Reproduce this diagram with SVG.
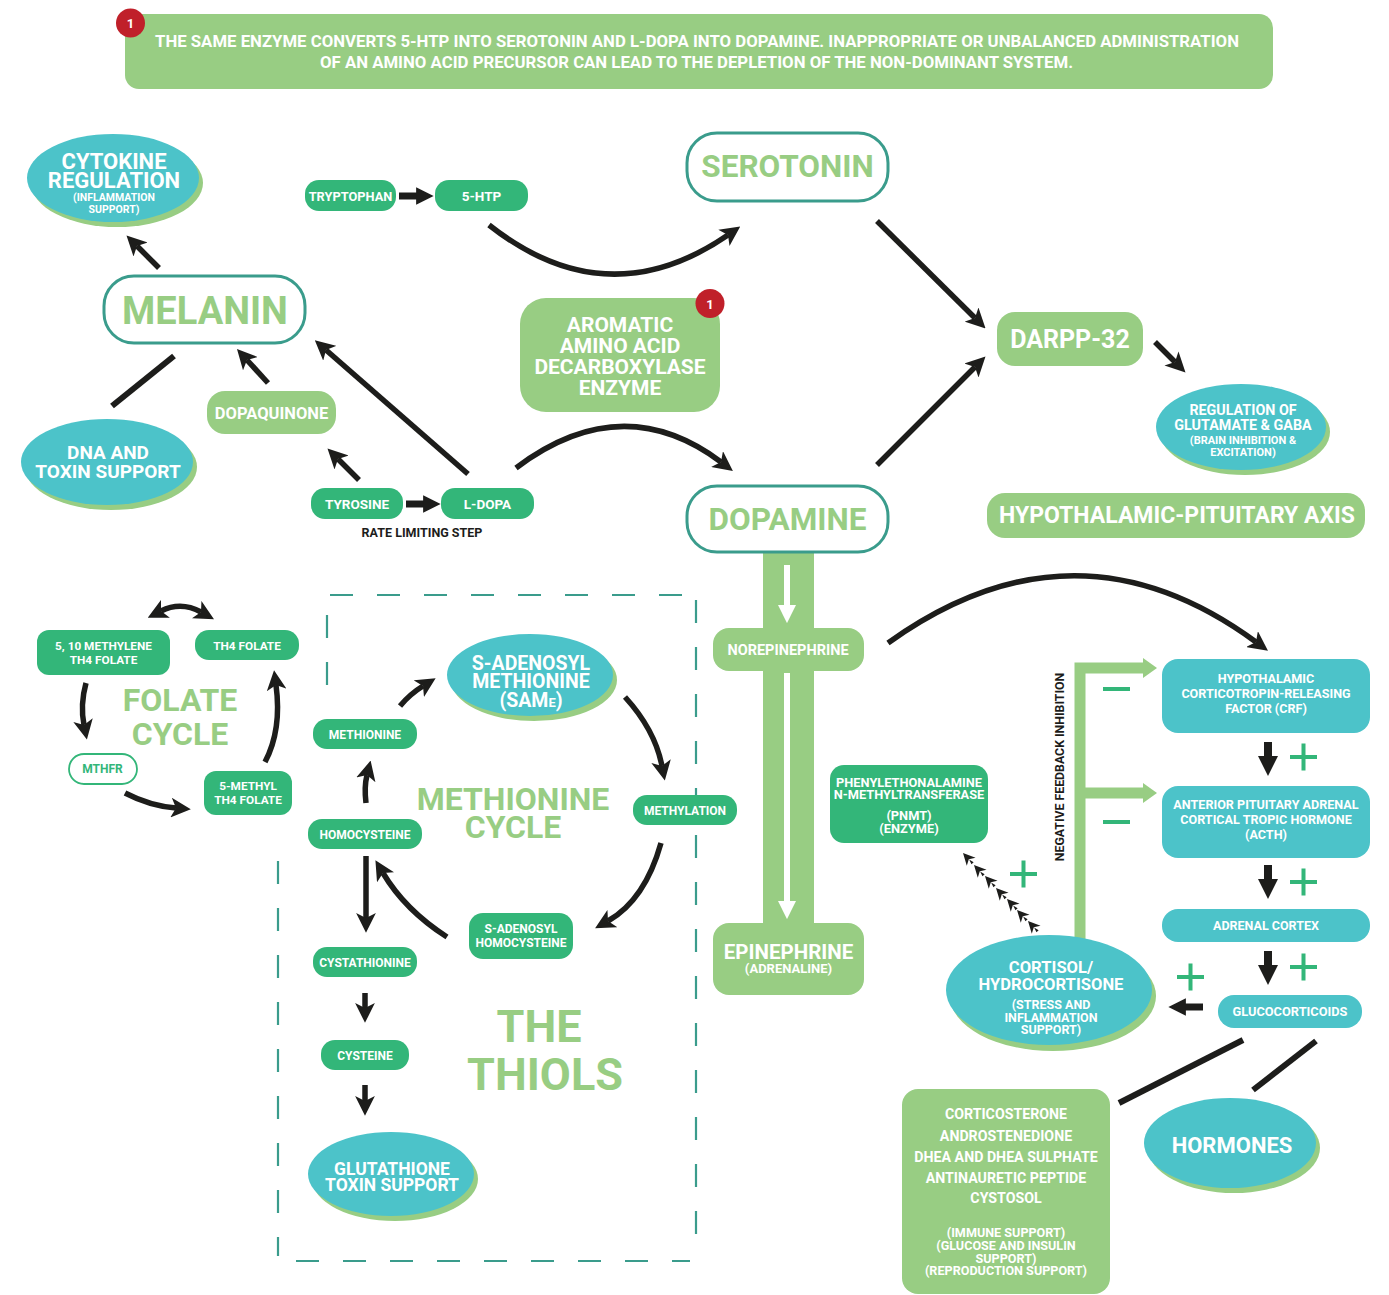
<svg xmlns="http://www.w3.org/2000/svg" width="1389" height="1295" viewBox="0 0 1389 1295">
<defs>
<style>
.t{font-family:Roboto,'Liberation Sans',sans-serif;font-weight:700;fill:#fff;text-anchor:middle}
.gt{fill:#98CD83}
.kt{fill:#1D1D1B}
.lg{fill:#98CD83}
.dg{fill:#33B679}
.tl{fill:#4CC3C9}
.out{fill:#fff;stroke:#3A9C8C;stroke-width:3}
.a{fill:none;stroke:#1D1D1B;stroke-width:5.5;marker-end:url(#ah)}
.ab{fill:none;stroke:#1D1D1B;stroke-width:7;marker-end:url(#ahb)}
.av{fill:none;stroke:#1D1D1B;stroke-width:8;marker-end:url(#ahb)}
.ln{fill:none;stroke:#1D1D1B;stroke-width:6}
.w{fill:none;stroke:#fff;stroke-width:6;marker-end:url(#wh)}
.pm{fill:none;stroke:#33B679;stroke-width:4}
.fb{fill:none;stroke:#98CD83;stroke-width:11}
.dash{fill:none;stroke:#3A9C8C;stroke-width:2.2;stroke-dasharray:23 24}
</style>
<marker id="ah" viewBox="0 0 10 10" refX="2.5" refY="5" markerWidth="3.6" markerHeight="3.6" orient="auto-start-reverse"><path d="M0,0 L10,5 L0,10 L2.5,5 z" fill="#1D1D1B"/></marker>
<marker id="ahb" viewBox="0 0 10 10" refX="0.5" refY="5" markerWidth="2.5" markerHeight="2.5" orient="auto"><path d="M0,0 L10,5 L0,10 z" fill="#1D1D1B"/></marker>
<marker id="wh" viewBox="0 0 10 10" refX="0.5" refY="5" markerWidth="3" markerHeight="3" orient="auto"><path d="M0,0 L10,5 L0,10 z" fill="#fff"/></marker>
<path id="dt" d="M0,0 L-12,-6 L-8.5,0 L-12,6 z M-9,0 L-14,1.5 L-14,-1.5 z" fill="#1D1D1B"/>
</defs>
<rect width="1389" height="1295" fill="#fff"/>

<!-- dashed thiols frame -->
<g id="thiols-frame">
<path class="dash" d="M330,595 H690"/>
<path class="dash" d="M327,615 V690"/>
<path class="dash" d="M278,861 V1256"/>
<path class="dash" d="M296,1261 H690"/>
<path class="dash" d="M696,600 V1250"/>
</g>

<!-- dopamine column -->
<g id="column"><rect x="763" y="552" width="51" height="373" class="lg"/></g>

<g id="connectors">
<line class="a" x1="159" y1="268" x2="137" y2="246"/>
<line class="ln" x1="174" y1="356" x2="112" y2="406"/>
<line class="a" x1="268" y1="383" x2="247" y2="360"/>
<line class="a" x1="359" y1="480" x2="338" y2="459"/>
<line class="a" x1="468" y1="474" x2="326" y2="350"/>
<line class="ab" x1="399" y1="196" x2="417" y2="196"/>
<line class="ab" x1="406" y1="504" x2="424" y2="504"/>
<path class="a" d="M489,225 Q607,318 728,235"/>
<path class="a" d="M516,468 Q622,388 721,462"/>
<line class="a" x1="877" y1="221" x2="975" y2="318"/>
<line class="a" x1="877" y1="465" x2="975" y2="367"/>
<line class="a" x1="1155" y1="342" x2="1175" y2="362"/>
<line class="w" x1="787" y1="565" x2="787" y2="606"/>
<line class="w" x1="787" y1="673" x2="787" y2="902"/>
<path class="a" d="M888,643 Q1075,509 1256,642"/>
<line class="av" x1="1268" y1="742" x2="1268" y2="757"/>
<line class="av" x1="1268" y1="865" x2="1268" y2="880"/>
<line class="av" x1="1268" y1="951" x2="1268" y2="966"/>
<line class="ab" x1="1203" y1="1007" x2="1185" y2="1007"/>
<line class="ln" x1="1243" y1="1040" x2="1119" y2="1103"/>
<line class="ln" x1="1316" y1="1041" x2="1253" y2="1090"/>
<path class="fb" d="M1080,942 V668 H1145 M1080,793 H1145"/>
<polygon points="1143,658 1157,668 1143,678" fill="#98CD83"/>
<polygon points="1143,783 1157,793 1143,803" fill="#98CD83"/>
<g id="pnmt-dots">
<use href="#dt" transform="translate(963,853) rotate(-133)"/>
<use href="#dt" transform="translate(974,865) rotate(-133)"/>
<use href="#dt" transform="translate(985,876) rotate(-133)"/>
<use href="#dt" transform="translate(996,888) rotate(-133)"/>
<use href="#dt" transform="translate(1007,899) rotate(-133)"/>
<use href="#dt" transform="translate(1017,910) rotate(-133)"/>
<use href="#dt" transform="translate(1028,921) rotate(-133)"/>
</g>
<!-- folate -->
<path class="a" style="marker-start:url(#ah)" d="M161,611 Q181,601 201,612"/>
<path class="a" d="M86,683 Q80,705 84,725"/>
<path class="a" d="M125,793 Q150,806 176,808"/>
<path class="a" d="M265,762 Q282,730 276,685"/>
<!-- methionine -->
<path class="a" d="M366,803 Q364,787 367,775"/>
<path class="a" d="M400,706 Q410,694 423,686"/>
<path class="a" d="M625,697 Q655,730 662,766"/>
<path class="a" d="M661,843 Q645,900 608,921"/>
<path class="a" d="M447,937 Q405,910 383,873"/>
<line class="a" x1="366" y1="856" x2="366" y2="918"/>
<line class="a" x1="365" y1="993" x2="365" y2="1008"/>
<line class="a" x1="365" y1="1085" x2="365" y2="1101"/>
</g>

<g id="signs">
<path class="pm" d="M1103,689 h27 M1103,822 h27"/>
<path class="pm" d="M1290,757 h27 M1303.5,743.5 v27"/>
<path class="pm" d="M1290,882 h27 M1303.5,868.5 v27"/>
<path class="pm" d="M1290,967 h27 M1303.5,953.5 v27"/>
<path class="pm" d="M1177,977 h27 M1190.5,963.5 v27"/>
<path class="pm" d="M1010,874 h27 M1023.5,860.5 v27"/>
</g>

<g id="note">
<rect x="125" y="14" width="1148" height="75" rx="14" class="lg"/>
<text class="t" x="697" y="47" font-size="16" textLength="1084" lengthAdjust="spacingAndGlyphs">THE SAME ENZYME CONVERTS 5-HTP INTO SEROTONIN AND L-DOPA INTO DOPAMINE. INAPPROPRIATE OR UNBALANCED ADMINISTRATION</text>
<text class="t" x="696.5" y="68" font-size="16" textLength="753" lengthAdjust="spacingAndGlyphs">OF AN AMINO ACID PRECURSOR CAN LEAD TO THE DEPLETION OF THE NON-DOMINANT SYSTEM.</text>
<circle cx="130.5" cy="23" r="14.5" fill="#C0202A"/>
<text class="t" x="130.5" y="28" font-size="13">1</text>
</g>

<g id="cytokine">
<ellipse cx="117" cy="183" rx="86" ry="44" class="lg"/>
<ellipse cx="113" cy="178" rx="86" ry="44" class="tl"/>
<text class="t" x="114" y="169" font-size="22">CYTOKINE</text>
<text class="t" x="114" y="188" font-size="22">REGULATION</text>
<text class="t" x="114" y="201" font-size="10.5">(INFLAMMATION</text>
<text class="t" x="114" y="213" font-size="10.5">SUPPORT)</text>
</g>

<g id="melanin">
<rect x="104" y="276" width="201" height="67" rx="30" class="out"/>
<text class="t gt" x="205" y="324" font-size="38">MELANIN</text>
</g>

<g id="dna">
<ellipse cx="111" cy="467" rx="86" ry="43" class="lg"/>
<ellipse cx="107" cy="462" rx="86" ry="43" class="tl"/>
<text class="t" x="108" y="459" font-size="19">DNA AND</text>
<text class="t" x="108" y="478" font-size="19">TOXIN SUPPORT</text>
</g>

<g id="dopaquinone">
<rect x="207" y="391" width="129" height="43" rx="18" class="lg"/>
<text class="t" x="271.5" y="419" font-size="16.5">DOPAQUINONE</text>
</g>

<g id="tryptophan">
<rect x="305" y="180" width="91" height="31" rx="14" class="dg"/>
<text class="t" x="350.5" y="201" font-size="12.8">TRYPTOPHAN</text>
</g>
<g id="htp">
<rect x="435" y="180" width="93" height="31" rx="14" class="dg"/>
<text class="t" x="481.5" y="201" font-size="13.5">5-HTP</text>
</g>
<g id="tyrosine">
<rect x="311" y="488" width="92" height="31" rx="14" class="dg"/>
<text class="t" x="357" y="509" font-size="13.5">TYROSINE</text>
</g>
<g id="ldopa">
<rect x="441" y="488" width="93" height="31" rx="14" class="dg"/>
<text class="t" x="487.5" y="509" font-size="13.5">L-DOPA</text>
</g>
<g id="rate-label">
<text class="t kt" x="422" y="537" font-size="12.5">RATE LIMITING STEP</text>
</g>

<g id="serotonin">
<rect x="687" y="133" width="201" height="68" rx="30" class="out"/>
<text class="t gt" x="787.5" y="177" font-size="31.5">SEROTONIN</text>
</g>

<g id="aromatic">
<rect x="520" y="298" width="200" height="114" rx="26" class="lg"/>
<text class="t" x="620" y="332" font-size="21">AROMATIC</text>
<text class="t" x="620" y="353" font-size="21">AMINO ACID</text>
<text class="t" x="620" y="374" font-size="21">DECARBOXYLASE</text>
<text class="t" x="620" y="395" font-size="21">ENZYME</text>
<circle cx="710" cy="303.5" r="14.5" fill="#C0202A"/>
<text class="t" x="710" y="308.5" font-size="13">1</text>
</g>

<g id="dopamine">
<rect x="687" y="486" width="201" height="66" rx="30" class="out"/>
<text class="t gt" x="787.5" y="530" font-size="31.5">DOPAMINE</text>
</g>

<g id="darpp">
<rect x="997" y="312" width="146" height="54" rx="18" class="lg"/>
<text class="t" x="1070" y="348" font-size="25">DARPP-32</text>
</g>

<g id="regulation">
<ellipse cx="1245" cy="432" rx="85" ry="43" class="lg"/>
<ellipse cx="1241" cy="427" rx="85" ry="43" class="tl"/>
<text class="t" x="1243" y="415" font-size="14.3">REGULATION OF</text>
<text class="t" x="1243" y="430" font-size="14.3">GLUTAMATE &amp; GABA</text>
<text class="t" x="1243" y="444" font-size="11">(BRAIN INHIBITION &amp;</text>
<text class="t" x="1243" y="456" font-size="11">EXCITATION)</text>
</g>

<g id="hpa">
<rect x="987" y="493" width="378" height="45" rx="18" class="lg"/>
<text class="t" x="1177" y="523" font-size="23">HYPOTHALAMIC-PITUITARY AXIS</text>
</g>

<g id="norepinephrine">
<rect x="713" y="628" width="151" height="43" rx="16" class="lg"/>
<text class="t" x="788" y="655" font-size="14.5">NOREPINEPHRINE</text>
</g>
<g id="epinephrine">
<rect x="713" y="923" width="151" height="72" rx="16" class="lg"/>
<text class="t" x="788.5" y="959" font-size="20.5">EPINEPHRINE</text>
<text class="t" x="788.5" y="973" font-size="13">(ADRENALINE)</text>
</g>

<g id="pnmt">
<rect x="830" y="765" width="158" height="78" rx="14" class="dg"/>
<text class="t" x="909" y="787" font-size="12.8">PHENYLETHONALAMINE</text>
<text class="t" x="909" y="799" font-size="12.8">N-METHYLTRANSFERASE</text>
<text class="t" x="909" y="820" font-size="12.8">(PNMT)</text>
<text class="t" x="909" y="833" font-size="12.8">(ENZYME)</text>
</g>

<g id="crf">
<rect x="1162" y="659" width="208" height="74" rx="16" class="tl"/>
<text class="t" x="1266" y="683" font-size="12.6">HYPOTHALAMIC</text>
<text class="t" x="1266" y="698" font-size="12.6">CORTICOTROPIN-RELEASING</text>
<text class="t" x="1266" y="713" font-size="12.6">FACTOR (CRF)</text>
</g>
<g id="acth">
<rect x="1162" y="786" width="208" height="72" rx="16" class="tl"/>
<text class="t" x="1266" y="809" font-size="12.6">ANTERIOR PITUITARY ADRENAL</text>
<text class="t" x="1266" y="824" font-size="12.6">CORTICAL TROPIC HORMONE</text>
<text class="t" x="1266" y="839" font-size="12.6">(ACTH)</text>
</g>
<g id="adrenal-cortex">
<rect x="1162" y="909" width="208" height="33" rx="16" class="tl"/>
<text class="t" x="1266" y="930" font-size="12.5">ADRENAL CORTEX</text>
</g>
<g id="glucocorticoids">
<rect x="1218" y="995" width="144" height="33" rx="16" class="tl"/>
<text class="t" x="1290" y="1015.5" font-size="12.8">GLUCOCORTICOIDS</text>
</g>

<g id="feedback-label">
<text class="t kt" transform="translate(1064,767) rotate(-90)" font-size="12.3">NEGATIVE FEEDBACK INHIBITION</text>
</g>

<g id="cortisol">
<ellipse cx="1053" cy="996" rx="103" ry="55" class="lg"/>
<ellipse cx="1049" cy="990" rx="103" ry="55" class="tl"/>
<text class="t" x="1051" y="973" font-size="16.6">CORTISOL/</text>
<text class="t" x="1051" y="990" font-size="16.6">HYDROCORTISONE</text>
<text class="t" x="1051" y="1009" font-size="12.5">(STRESS AND</text>
<text class="t" x="1051" y="1022" font-size="12.5">INFLAMMATION</text>
<text class="t" x="1051" y="1034" font-size="12.5">SUPPORT)</text>
</g>

<g id="steroids">
<rect x="902" y="1089" width="208" height="205" rx="16" class="lg"/>
<text class="t" x="1006" y="1119" font-size="14.2">CORTICOSTERONE</text>
<text class="t" x="1006" y="1141" font-size="14.2">ANDROSTENEDIONE</text>
<text class="t" x="1006" y="1162" font-size="14.2">DHEA AND DHEA SULPHATE</text>
<text class="t" x="1006" y="1183" font-size="14.2">ANTINAURETIC PEPTIDE</text>
<text class="t" x="1006" y="1203" font-size="14.2">CYSTOSOL</text>
<text class="t" x="1006" y="1237" font-size="12.6">(IMMUNE SUPPORT)</text>
<text class="t" x="1006" y="1250" font-size="12.6">(GLUCOSE AND INSULIN</text>
<text class="t" x="1006" y="1263" font-size="12.6">SUPPORT)</text>
<text class="t" x="1006" y="1275" font-size="12.6">(REPRODUCTION SUPPORT)</text>
</g>

<g id="hormones">
<ellipse cx="1234" cy="1148" rx="86" ry="45" class="lg"/>
<ellipse cx="1230" cy="1143" rx="86" ry="45" class="tl"/>
<text class="t" x="1232" y="1153" font-size="22">HORMONES</text>
</g>

<!-- folate cycle -->
<g id="methylene-th4">
<rect x="37" y="630" width="133" height="45" rx="12" class="dg"/>
<text class="t" x="103.5" y="650" font-size="11.8">5, 10 METHYLENE</text>
<text class="t" x="103.5" y="664" font-size="11.8">TH4 FOLATE</text>
</g>
<g id="th4-folate">
<rect x="195" y="630" width="104" height="30" rx="14" class="dg"/>
<text class="t" x="247" y="650" font-size="11.8">TH4 FOLATE</text>
</g>
<g id="mthfr">
<rect x="69" y="754" width="68" height="30" rx="15" fill="#fff" stroke="#33B679" stroke-width="1.8"/>
<text class="t" x="102.5" y="773" font-size="12" style="fill:#33B679">MTHFR</text>
</g>
<g id="methyl-th4">
<rect x="204" y="771" width="88" height="44" rx="12" class="dg"/>
<text class="t" x="248" y="790" font-size="11.8">5-METHYL</text>
<text class="t" x="248" y="804" font-size="11.8">TH4 FOLATE</text>
</g>
<g id="folate-title">
<text class="t gt" x="180" y="711" font-size="32">FOLATE</text>
<text class="t gt" x="180" y="745" font-size="32">CYCLE</text>
</g>

<!-- methionine cycle -->
<g id="same">
<ellipse cx="534" cy="680" rx="83" ry="41" class="lg"/>
<ellipse cx="530" cy="675" rx="83" ry="41" class="tl"/>
<text class="t" x="531" y="670" font-size="19.5">S-ADENOSYL</text>
<text class="t" x="531" y="688" font-size="19.5">METHIONINE</text>
<text class="t" x="531" y="707" font-size="19.5">(SAM<tspan font-size="13">E</tspan>)</text>
</g>
<g id="methionine">
<rect x="313" y="719" width="104" height="30" rx="14" class="dg"/>
<text class="t" x="365" y="739" font-size="12">METHIONINE</text>
</g>
<g id="homocysteine">
<rect x="308" y="819" width="114" height="30" rx="14" class="dg"/>
<text class="t" x="365" y="839" font-size="12">HOMOCYSTEINE</text>
</g>
<g id="methylation">
<rect x="633" y="795" width="104" height="30" rx="14" class="dg"/>
<text class="t" x="685" y="815" font-size="12">METHYLATION</text>
</g>
<g id="sah">
<rect x="469" y="913" width="104" height="46" rx="14" class="dg"/>
<text class="t" x="521" y="933" font-size="12">S-ADENOSYL</text>
<text class="t" x="521" y="947" font-size="12">HOMOCYSTEINE</text>
</g>
<g id="cystathionine">
<rect x="313" y="947" width="104" height="30" rx="14" class="dg"/>
<text class="t" x="365" y="966.5" font-size="12">CYSTATHIONINE</text>
</g>
<g id="cysteine">
<rect x="321" y="1040" width="88" height="30" rx="14" class="dg"/>
<text class="t" x="365" y="1059.5" font-size="12">CYSTEINE</text>
</g>
<g id="glutathione">
<ellipse cx="395" cy="1179" rx="83" ry="42" class="lg"/>
<ellipse cx="391" cy="1174" rx="83" ry="42" class="tl"/>
<text class="t" x="392" y="1175" font-size="17.5">GLUTATHIONE</text>
<text class="t" x="392" y="1191" font-size="17.5">TOXIN SUPPORT</text>
</g>
<g id="methionine-title">
<text class="t gt" x="513" y="810" font-size="32">METHIONINE</text>
<text class="t gt" x="513" y="838" font-size="32">CYCLE</text>
</g>
<g id="thiols-title">
<text class="t gt" x="539" y="1042" font-size="45">THE</text>
<text class="t gt" x="545" y="1090" font-size="45">THIOLS</text>
</g>
</svg>
